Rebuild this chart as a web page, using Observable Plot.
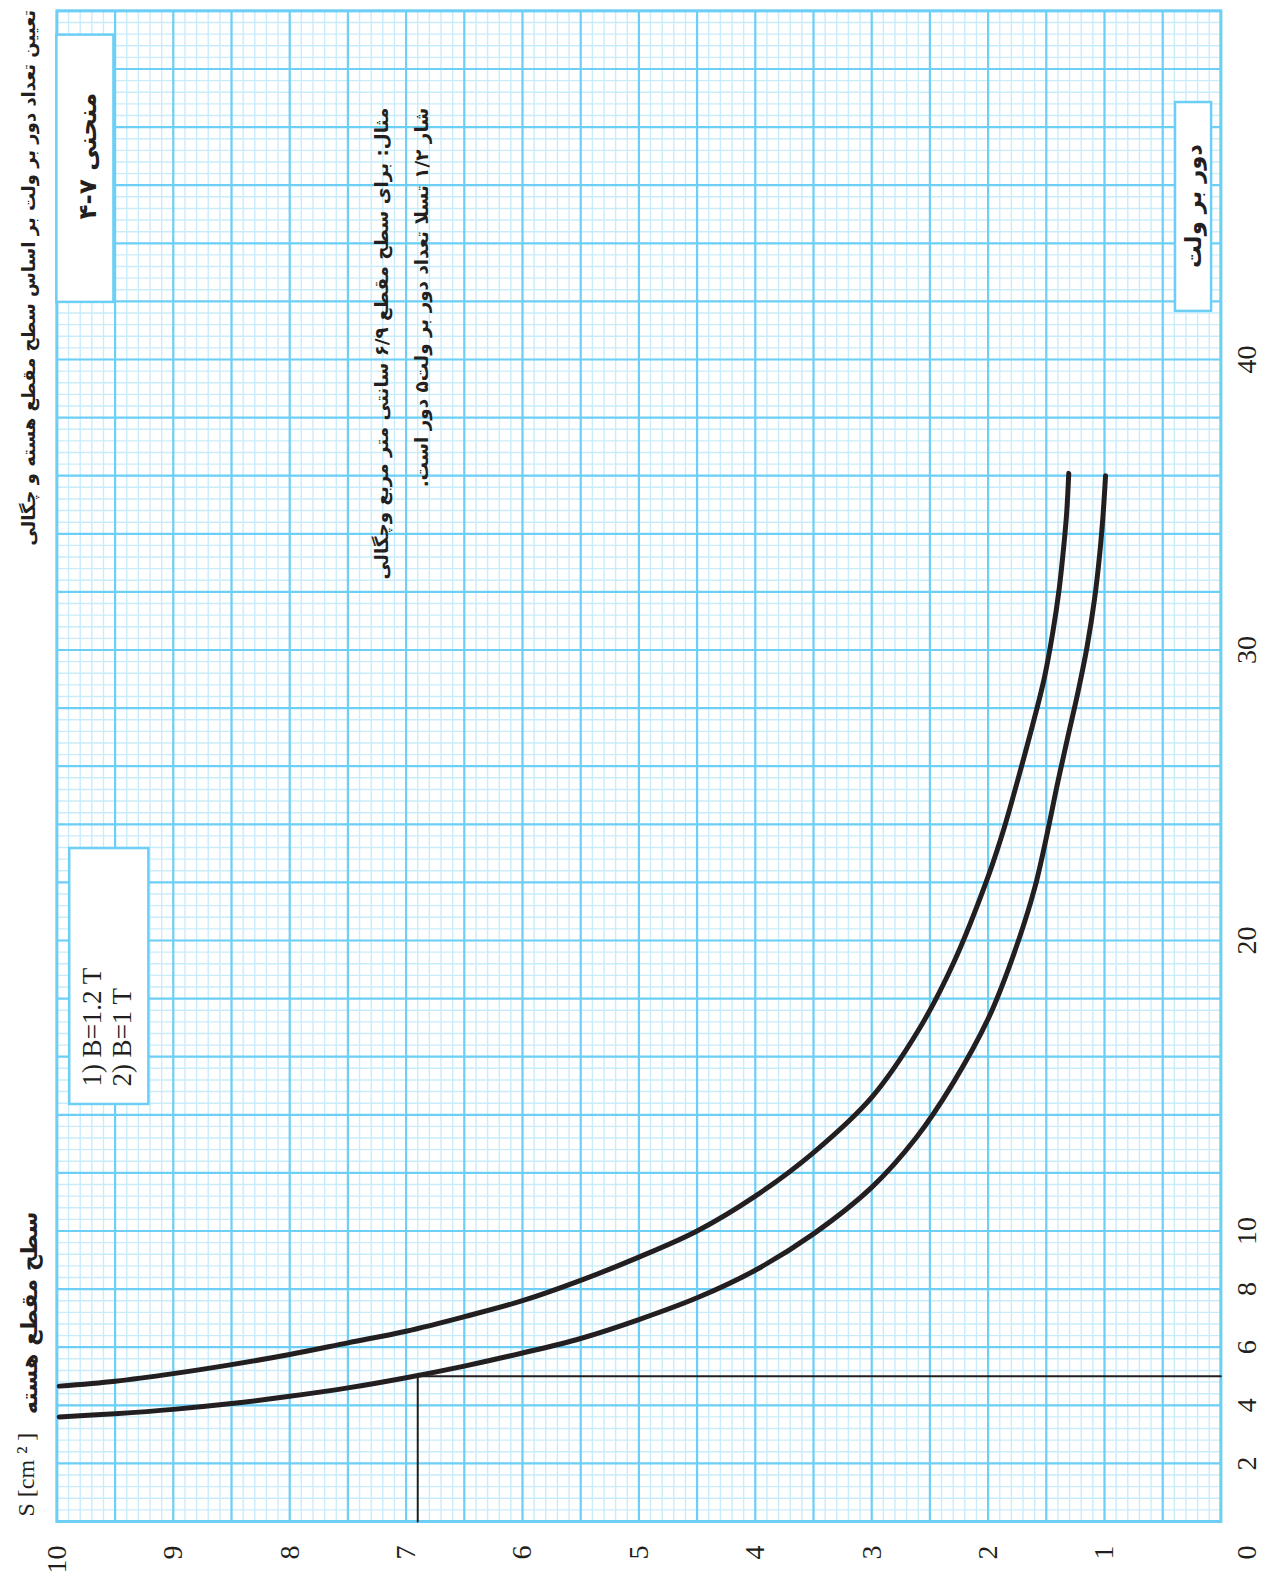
<!DOCTYPE html>
<html><head><meta charset="utf-8">
<script src="https://cdn.jsdelivr.net/npm/d3@7"></script>
<script src="https://cdn.jsdelivr.net/npm/@observablehq/plot@0.6"></script>
<style>
html,body{margin:0;padding:0;background:#fff;overflow:hidden;width:1264px;height:1584px}
#rot{position:absolute;left:0;top:0;width:1584px;height:1264px;transform-origin:0 0;transform:translate(0,1584px) rotate(-90deg);}
</style></head><body><div id="rot"></div>
<script>
// ---------- data ----------
const xTickValues = [2, 4, 6, 8, 10, 20, 30, 40];   // turns per volt
const yTickValues = [1, 2, 3, 4, 5, 6, 7, 8, 9, 10]; // S [cm2]
const cornerLabel = ["0"];

// curve 2) B = 1 T
const sB1 = [9.98, 9.5, 9.0, 8.5, 8.0, 7.5, 7.0, 6.5, 6.0, 5.5, 5.0, 4.5, 4.0, 3.5, 3.0, 2.6, 2.3, 2.0, 1.86, 1.74, 1.62, 1.52, 1.445, 1.39, 1.35, 1.325, 1.307];
const nB1 = [4.66, 4.83, 5.09, 5.40, 5.75, 6.15, 6.55, 7.05, 7.6, 8.3, 9.1, 10.0, 11.2, 12.7, 14.6, 16.9, 19.2, 22.2, 23.9, 25.6, 27.38, 28.98, 30.59, 32.08, 33.57, 34.72, 36.08];
// curve 1) B = 1.2 T
const sB12 = [9.98, 9.5, 9.0, 8.5, 8.0, 7.5, 7.0, 6.5, 6.0, 5.5, 5.0, 4.5, 4.0, 3.5, 3.0, 2.62, 2.3, 2.0, 1.8, 1.6, 1.393, 1.32, 1.229, 1.149, 1.086, 1.04, 1.011, 0.991];
const nB12 = [3.60, 3.71, 3.86, 4.06, 4.31, 4.60, 4.95, 5.35, 5.8, 6.3, 6.95, 7.7, 8.65, 9.9, 11.5, 13.2, 15.1, 17.3, 19.3, 21.8, 25.6, 26.92, 28.53, 30.13, 31.74, 33.35, 34.72, 36.0];

// worked example: S = 6.9 cm2 , B = 1.2 T -> 5 turns per volt
const exampleS = 6.9, exampleN = 5;

// texts
const titleText = "تعیین تعداد دور بر ولت بر اساس سطح مقطع هسته و چگالی";
const figureText = "منحنی ۷-۴";
const exampleLine1 = "مثال: برای سطح مقطع ۶/۹ سانتی متر مربع وچگالی";
const exampleLine2 = "شار ۱/۲ تسلا تعداد دور بر ولت۵ دور است.";
const yLabelFa = "سطح مقطع هسته";
const yLabelEn = "S [cm ² ]";
const xLabelFa = "دور بر ولت";
const legendLines = ["1) B=1.2 T", "2) B=1 T"];

// ---------- layout (annotation boxes in data units) ----------
const N_MAX = 52;
const figureBox = {n1: 42.0, n2: 51.2, s1: 9.51, s2: 10};
const legendBox = {n1: 14.39, n2: 23.2, s1: 9.21, s2: 9.89};
const unitBox = {n1: 41.69, n2: 48.88, s1: 0.08, s2: 0.39};

const rtl = s => "\u202B" + s + "\u202C";
const ink = "#231f20";
const major = "#6dcff6";
const minor = "#c9ecfb";
const fa = "DejaVu Sans";
const serif = "Liberation Serif";

const curveB1 = sB1.map((s, i) => ({s, n: nB1[i]}));
const curveB12 = sB12.map((s, i) => ({s, n: nB12[i]}));
const example = [{n: 0, s: exampleS}, {n: exampleN, s: exampleS}, {n: exampleN, s: 0}];

const minorX = d3.range(0, Math.round(N_MAX / 0.4) + 1).map(i => +(i * 0.4).toFixed(2));
const majorX = d3.range(0, N_MAX / 2 + 1).map(i => i * 2);
const minorY = d3.range(0, 101).map(i => i / 10);
const majorY = d3.range(0, 21).map(i => i / 2);

const plot = Plot.plot({
  width: 1584, height: 1264,
  marginLeft: 62, marginRight: 11.4, marginTop: 56.4, marginBottom: 43.6,
  x: {domain: [0, N_MAX]},
  y: {domain: [0, 10]},
  marks: [
    Plot.ruleX(minorX, {stroke: minor, strokeWidth: 1.4}),
    Plot.ruleY(minorY, {stroke: minor, strokeWidth: 1.4}),
    Plot.ruleX(majorX, {stroke: major, strokeWidth: 2.2}),
    Plot.ruleY(majorY, {stroke: major, strokeWidth: 2.2}),
    Plot.frame({stroke: major, strokeWidth: 3}),
    Plot.rect([figureBox, legendBox, unitBox], {x1: "n1", x2: "n2", y1: "s1", y2: "s2", fill: "white", stroke: major, strokeWidth: 2.5}),
    Plot.axisX(xTickValues, {tickSize: 0, tickPadding: 15, fontSize: 28, fontFamily: serif, fill: ink, label: null, tickFormat: d => String(d)}),
    Plot.axisY(yTickValues, {tickSize: 0, tickPadding: 24, fontSize: 28, fontFamily: serif, fill: ink, label: null, tickFormat: d => String(d)}),
    Plot.text(cornerLabel, {x: 0, y: 0, text: d => d, dx: -24, dy: 15, textAnchor: "end", lineAnchor: "top", fontSize: 28, fontFamily: serif, fill: ink}),
    // title and axis titles
    Plot.text([rtl(titleText)], {frameAnchor: "top-right", text: d => d, dx: 1, dy: -27.4, textAnchor: "end", lineAnchor: "middle", fontSize: 22, fontWeight: "bold", fontFamily: fa, fill: ink}),
    Plot.text([rtl(yLabelFa)], {frameAnchor: "top-left", text: d => d, dx: 310, dy: -27.4, textAnchor: "end", lineAnchor: "middle", fontSize: 22, fontWeight: "bold", fontFamily: fa, fill: ink}),
    Plot.text([yLabelEn], {frameAnchor: "top-left", text: d => d, dx: 5, dy: -23.4, textAnchor: "start", lineAnchor: "bottom", fontSize: 24, fontFamily: serif, fill: ink}),
    Plot.text([rtl(figureText)], {x: 47.0, y: 9.73, text: d => d, textAnchor: "middle", lineAnchor: "middle", fontSize: 24, fontWeight: "bold", fontFamily: fa, fill: ink}),
    Plot.text([rtl(xLabelFa)], {x: (unitBox.n1 + unitBox.n2) / 2, y: (unitBox.s1 + unitBox.s2) / 2, text: d => d, textAnchor: "middle", lineAnchor: "middle", fontSize: 22, fontWeight: "bold", fontFamily: fa, fill: ink}),
    Plot.text([rtl(exampleLine1)], {x: 48.67, y: 7.21, text: d => d, textAnchor: "end", lineAnchor: "middle", fontSize: 19, fontWeight: "bold", fontFamily: fa, fill: ink}),
    Plot.text([rtl(exampleLine2)], {x: 48.67, y: 6.86, text: d => d, textAnchor: "end", lineAnchor: "middle", fontSize: 19, fontWeight: "bold", fontFamily: fa, fill: ink}),
    Plot.text([legendLines[0]], {x: 14.97, y: 9.625, text: d => d, textAnchor: "start", lineAnchor: "bottom", fontSize: 27, fontFamily: serif, fill: ink}),
    Plot.text([legendLines[1]], {x: 14.97, y: 9.367, text: d => d, textAnchor: "start", lineAnchor: "bottom", fontSize: 27, fontFamily: serif, fill: ink}),
    // curves
    Plot.line(curveB12, {x: "n", y: "s", stroke: ink, strokeWidth: 5, curve: "catmull-rom", strokeLinecap: "round"}),
    Plot.line(curveB1, {x: "n", y: "s", stroke: ink, strokeWidth: 5, curve: "catmull-rom", strokeLinecap: "round"}),
    Plot.line(example, {x: "n", y: "s", stroke: ink, strokeWidth: 2})
  ]
});
document.getElementById("rot").appendChild(plot);

// fit Persian texts to the measured lengths of the reference
const targets = new Map([
  [rtl(titleText), 536], [rtl(yLabelFa), 203], [rtl(figureText), 127],
  [rtl(xLabelFa), 124], [rtl(exampleLine1), 472], [rtl(exampleLine2), 380]
]);
plot.querySelectorAll("text").forEach(t => {
  const w = targets.get(t.textContent);
  if (w) {
    const fs = parseFloat(getComputedStyle(t).fontSize);
    const len = t.getComputedTextLength();
    if (len > 0) t.style.fontSize = (fs * w / len) + "px";
  }
});
</script></body></html>
